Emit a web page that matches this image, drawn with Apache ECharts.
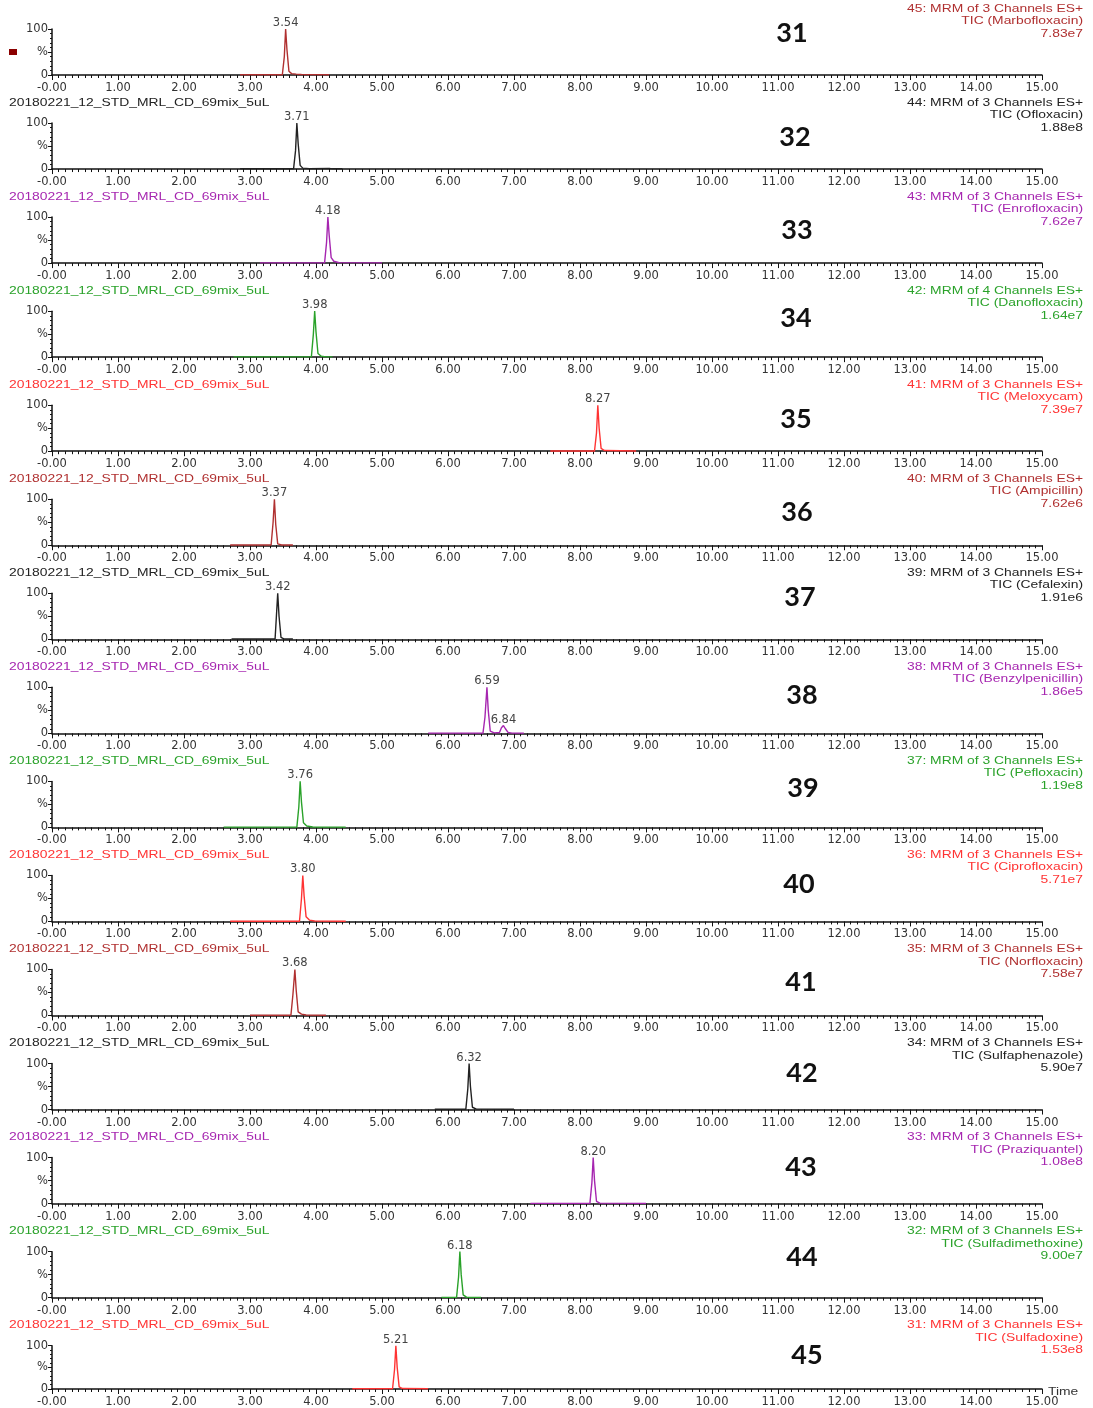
<!DOCTYPE html>
<html><head><meta charset="utf-8">
<script src="https://cdn.jsdelivr.net/npm/echarts@6/dist/echarts.min.js"></script>
<style>html,body{margin:0;padding:0;background:#fff}#c{width:1093px;height:1408px}</style>
</head><body><div id="c"></div>
<script>
// ---------- data ----------
const panelNumbers = ['31','32','33','34','35','36','37','38','39','40','41','42','43','44','45'];
const channelLines = ['45: MRM of 3 Channels ES+','44: MRM of 3 Channels ES+','43: MRM of 3 Channels ES+','42: MRM of 4 Channels ES+','41: MRM of 3 Channels ES+','40: MRM of 3 Channels ES+','39: MRM of 3 Channels ES+','38: MRM of 3 Channels ES+','37: MRM of 3 Channels ES+','36: MRM of 3 Channels ES+','35: MRM of 3 Channels ES+','34: MRM of 3 Channels ES+','33: MRM of 3 Channels ES+','32: MRM of 3 Channels ES+','31: MRM of 3 Channels ES+'];
const compounds = ['TIC (Marbofloxacin)','TIC (Ofloxacin)','TIC (Enrofloxacin)','TIC (Danofloxacin)','TIC (Meloxycam)','TIC (Ampicillin)','TIC (Cefalexin)','TIC (Benzylpenicillin)','TIC (Pefloxacin)','TIC (Ciprofloxacin)','TIC (Norfloxacin)','TIC (Sulfaphenazole)','TIC (Praziquantel)','TIC (Sulfadimethoxine)','TIC (Sulfadoxine)'];
const intensities = ['7.83e7','1.88e8','7.62e7','1.64e7','7.39e7','7.62e6','1.91e6','1.86e5','1.19e8','5.71e7','7.58e7','5.90e7','1.08e8','9.00e7','1.53e8'];
const sampleName = '20180221_12_STD_MRL_CD_69mix_5uL';
const peakLabels = [[[3.54,100]],[[3.71,100]],[[4.18,100]],[[3.98,100]],[[8.27,100]],[[3.37,100]],[[3.42,100]],[[6.59,100],[6.84,17]],[[3.76,100]],[[3.80,100]],[[3.68,100]],[[6.32,100]],[[8.20,100]],[[6.18,100]],[[5.21,100]]];
const xTicks = [0,1,2,3,4,5,6,7,8,9,10,11,12,13,14,15];
const yTicks = [0,50,100];

const trace31 = [[2.85,0.5],[3.49,0.5],[3.52,40],[3.54,100],[3.56,55],[3.59,8],[3.63,3],[3.7,2],[3.78,1],[4.2,0.5]];
const trace32 = [[2.85,0.5],[3.66,0.5],[3.69,40],[3.71,100],[3.73,55],[3.76,8],[3.8,2],[3.9,1],[4.2,1.5],[4.25,0.5],[4.4,0.5]];
const trace33 = [[3.15,0.5],[4.13,0.5],[4.16,45],[4.18,100],[4.2,60],[4.23,12],[4.27,4],[4.35,1],[5.0,0.5]];
const trace34 = [[2.75,0.5],[3.93,0.5],[3.96,50],[3.98,100],[4.0,55],[4.03,8],[4.08,2],[4.15,0.5],[4.25,0.5]];
const trace35 = [[7.55,0.5],[8.22,0.5],[8.25,40],[8.27,100],[8.29,50],[8.32,6],[8.37,1.5],[8.85,0.5]];
const trace36 = [[2.7,0.5],[3.32,0.5],[3.35,50],[3.37,100],[3.39,45],[3.42,3],[3.48,0.5],[3.65,0.5]];
const trace37 = [[2.72,0.5],[3.38,0.5],[3.40,50],[3.42,100],[3.44,50],[3.47,4],[3.52,0.5],[3.65,0.5]];
const trace38 = [[5.7,0.5],[6.53,0.5],[6.56,35],[6.59,100],[6.61,50],[6.64,5],[6.7,1],[6.78,2],[6.81,12],[6.84,17],[6.87,10],[6.91,2],[6.97,0.5],[7.15,0.5]];
const trace39 = [[2.6,0.5],[3.71,0.5],[3.74,45],[3.76,100],[3.78,55],[3.81,10],[3.86,3],[3.95,1],[4.45,0.5]];
const trace40 = [[2.7,0.5],[3.75,0.5],[3.78,50],[3.80,100],[3.82,55],[3.85,10],[3.9,3],[3.98,1],[4.45,0.5]];
const trace41 = [[3.0,0.5],[3.62,0.5],[3.65,45],[3.68,100],[3.70,55],[3.73,8],[3.78,3],[3.85,1],[4.15,0.5]];
const trace42 = [[5.8,0.5],[6.27,0.5],[6.30,45],[6.32,100],[6.34,50],[6.37,5],[6.43,1],[7.0,0.5]];
const trace43 = [[7.25,0.5],[8.15,0.5],[8.18,45],[8.20,100],[8.22,50],[8.25,5],[8.3,1],[9.0,0.5]];
const trace44 = [[5.9,0.5],[6.13,0.5],[6.16,45],[6.18,100],[6.20,50],[6.23,6],[6.28,1],[6.5,0.5]];
const trace45 = [[4.55,0.5],[5.16,0.5],[5.19,45],[5.21,100],[5.23,50],[5.26,5],[5.31,1],[5.7,0.5]];
const traces = [trace31,trace32,trace33,trace34,trace35,trace36,trace37,trace38,trace39,trace40,trace41,trace42,trace43,trace44,trace45];

// ---------- styling / layout ----------
const palette = {dr:'#b03030', bk:'#222222', pu:'#a626b0', gr:'#2aa22a', rd:'#ff3333'};
const panelColors = ['dr','bk','pu','gr','rd','dr','bk','pu','gr','rd','dr','bk','pu','gr','rd'].map(k=>palette[k]);
const numPos = [[792,32],[795,136],[797,229],[796,317],[796,418],[797,511],[800,596],[802,694],[803,787],[799,883],[801,981],[802,1072],[801,1166],[802,1256],[807,1354]];
const LEFT = 52, WIDTH = 990, Y0 = 75, STEP = 94.05, H = 46;
const FONT = '"Liberation Sans", Arial, sans-serif';
const AXFONT = '"DejaVu Sans", sans-serif';
const SX = 1.26;

const grids=[], xAxes=[], yAxes=[], series=[], graphics=[];
for (let i=0;i<15;i++){
  const y0 = Y0 + STEP*i;
  grids.push({left:LEFT, width:WIDTH, top:y0-H, height:H});
  xAxes.push({type:'value', gridIndex:i, min:xTicks[0], max:xTicks[xTicks.length-1], interval:1,
    axisLine:{show:true, onZero:false, lineStyle:{color:'#111', width:1.5}},
    axisTick:{show:true, length:5, lineStyle:{color:'#111', width:1}},
    minorTick:{show:true, splitNumber:10, length:3, lineStyle:{color:'#111', width:1}},
    splitLine:{show:false},
    axisLabel:{show:true, margin:7, fontSize:11.5, fontFamily:AXFONT, color:'#333',
      formatter:v=> v===0 ? '-0.00' : v.toFixed(2)}
  });
  yAxes.push({type:'value', gridIndex:i, min:0, max:100, interval:50,
    axisLine:{show:true, lineStyle:{color:'#111', width:1.5}},
    axisTick:{show:true, length:4, lineStyle:{color:'#111'}},
    minorTick:{show:true, splitNumber:5, length:2, lineStyle:{color:'#111'}},
    splitLine:{show:false},
    axisLabel:{show:true, margin:4, fontSize:11.5, fontFamily:AXFONT, color:'#333',
      formatter:v=> v===yTicks[1] ? '%' : String(v)}
  });
  series.push({type:'line', xAxisIndex:i, yAxisIndex:i, data:traces[i], showSymbol:false, silent:true,
    lineStyle:{color:panelColors[i], width:1.4}, animation:false,
    markPoint:{symbol:'circle', symbolSize:0, silent:true, animation:false,
      label:{show:true, position:'top', distance:0, fontSize:11.5, fontFamily:AXFONT, color:'#444',
        formatter:p=>p.data.coord[0].toFixed(2)},
      data:peakLabels[i].map(c=>({coord:c}))}
  });
  const col = panelColors[i];
  [channelLines[i], compounds[i], intensities[i]].forEach((t,k)=>{
    graphics.push({type:'text', x:1083, y:y0-72+k*12.5, scaleX:SX,
      style:{text:t, font:'11px '+FONT, fill:col, textAlign:'right', textVerticalAlign:'top'}});
  });
  if (i>0){
    graphics.push({type:'text', x:9, y:y0-STEP+22, scaleX:SX,
      style:{text:sampleName, font:'11px '+FONT, fill:col, textAlign:'left', textVerticalAlign:'top'}});
  }
  graphics.push({type:'text', x:numPos[i][0], y:numPos[i][1]+1,
    style:{text:panelNumbers[i], font:'bold 27px Lato, "Open Sans", sans-serif', fill:'#111', textAlign:'center', textVerticalAlign:'middle'}});
}
graphics.push({type:'rect', x:9, y:49, shape:{width:8, height:6}, style:{fill:'#8b0000'}});
graphics.push({type:'text', x:1048, y:Y0+STEP*14-5, scaleX:SX, style:{text:'Time', font:'11px '+FONT, fill:'#333', textAlign:'left', textVerticalAlign:'top'}});

const chart = echarts.init(document.getElementById('c'), null, {renderer:'canvas'});
chart.setOption({animation:false, backgroundColor:'#fff', grid:grids, xAxis:xAxes, yAxis:yAxes, series:series, graphic:graphics});
</script></body></html>
